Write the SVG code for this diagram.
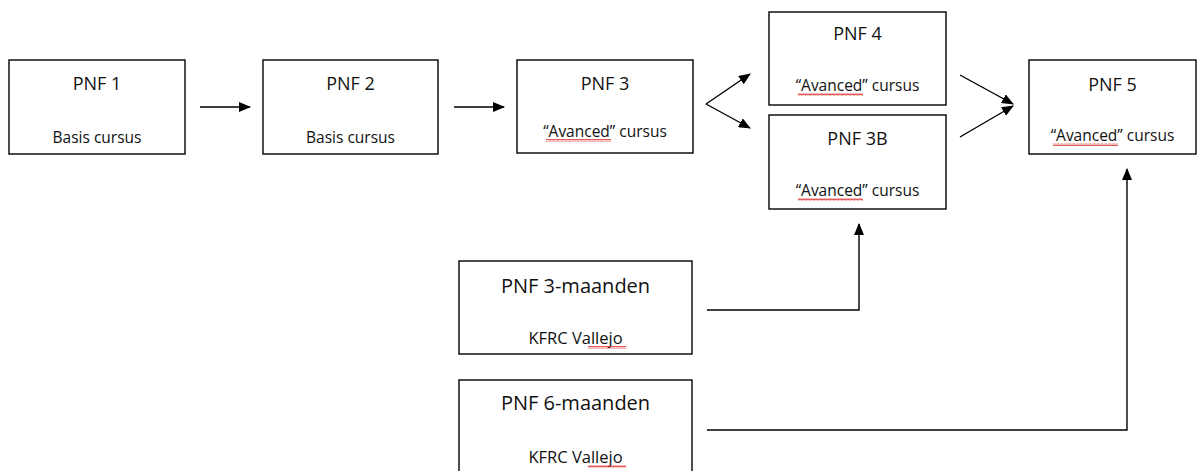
<svg xmlns="http://www.w3.org/2000/svg" width="1204" height="471" viewBox="0 0 1204 471">
<style>
.box{fill:#fff;stroke:#000;stroke-width:1.4}
.t{font-family:"Open Sans","Noto Sans",sans-serif;font-size:18px;fill:#111;text-anchor:middle}
.s{font-family:"Open Sans","Noto Sans",sans-serif;font-size:15.5px;fill:#111;text-anchor:middle}
.tl{font-family:"Open Sans","Noto Sans",sans-serif;font-size:20px;fill:#111;text-anchor:middle}
.sl{font-family:"Open Sans","Noto Sans",sans-serif;font-size:16.5px;fill:#111;text-anchor:middle}
.c{fill:none;stroke:#000;stroke-width:1.4}
.sq{fill:url(#wave)}
</style>
<defs>
<marker id="ah" markerWidth="12" markerHeight="10" refX="11" refY="5" orient="auto" markerUnits="userSpaceOnUse">
<path d="M0,0 L12,5 L0,10 Z" fill="#000"/>
</marker>
<pattern id="wave" width="4" height="3" patternUnits="userSpaceOnUse">
<path d="M0,2.5 L1,0.5 L2,2.5 L3,0.5 L4,2.5" fill="none" stroke="#d33" stroke-width="0.8"/>
</pattern>
</defs>
<rect width="1204" height="471" fill="#fff"/>
<g id="pnf1"><rect class="box" x="9" y="60" width="176" height="94"/><text class="t" x="97" y="90">PNF 1</text><text class="s" x="97" y="143">Basis cursus</text></g>
<g id="pnf2"><rect class="box" x="263" y="60" width="175" height="94"/><text class="t" x="350.5" y="90">PNF 2</text><text class="s" x="350.5" y="143">Basis cursus</text></g>
<g id="pnf3"><rect class="box" x="517" y="60" width="176" height="93"/><text class="t" x="605" y="90">PNF 3</text><text class="s" x="605" y="137">“Avanced” cursus</text><rect class="sq" x="546" y="139" width="65" height="3"/></g>
<g id="pnf4"><rect class="box" x="769" y="12" width="177" height="93"/><text class="t" x="857.5" y="40">PNF 4</text><text class="s" x="857.5" y="91">“Avanced” cursus</text><rect class="sq" x="798" y="93" width="65" height="3"/></g>
<g id="pnf3b"><rect class="box" x="769" y="115" width="177" height="94"/><text class="t" x="857.5" y="145">PNF 3B</text><text class="s" x="857.5" y="196">“Avanced” cursus</text><rect class="sq" x="798" y="198" width="65" height="3"/></g>
<g id="pnf5"><rect class="box" x="1029" y="60" width="167" height="94"/><text class="t" x="1112.5" y="91">PNF 5</text><text class="s" x="1112.5" y="141">“Avanced” cursus</text><rect class="sq" x="1053" y="143" width="65" height="3"/></g>
<g id="pnf3m"><rect class="box" x="459" y="261" width="233" height="93"/><text class="tl" x="575.5" y="293">PNF 3-maanden</text><text class="sl" x="575.5" y="344">KFRC Vallejo</text><rect class="sq" x="588" y="346" width="38" height="3"/></g>
<g id="pnf6m"><rect class="box" x="459" y="380" width="233" height="100"/><text class="tl" x="575.5" y="410">PNF 6-maanden</text><text class="sl" x="575.5" y="463">KFRC Vallejo</text><rect class="sq" x="588" y="465" width="38" height="3"/></g>
<g id="connectors">
<line class="c" x1="200" y1="107" x2="250" y2="107" marker-end="url(#ah)"/>
<line class="c" x1="454" y1="107" x2="504" y2="107" marker-end="url(#ah)"/>
<path class="c" d="M706,104 L750,74" marker-end="url(#ah)"/>
<path class="c" d="M706,104 L750,128" marker-end="url(#ah)"/>
<line class="c" x1="960" y1="75" x2="1013" y2="104" marker-end="url(#ah)"/>
<line class="c" x1="960" y1="137" x2="1013" y2="106" marker-end="url(#ah)"/>
<polyline class="c" points="707,310 859,310 859,224" marker-end="url(#ah)"/>
<polyline class="c" points="707,430 1127,430 1127,169" marker-end="url(#ah)"/>
</g>
</svg>
